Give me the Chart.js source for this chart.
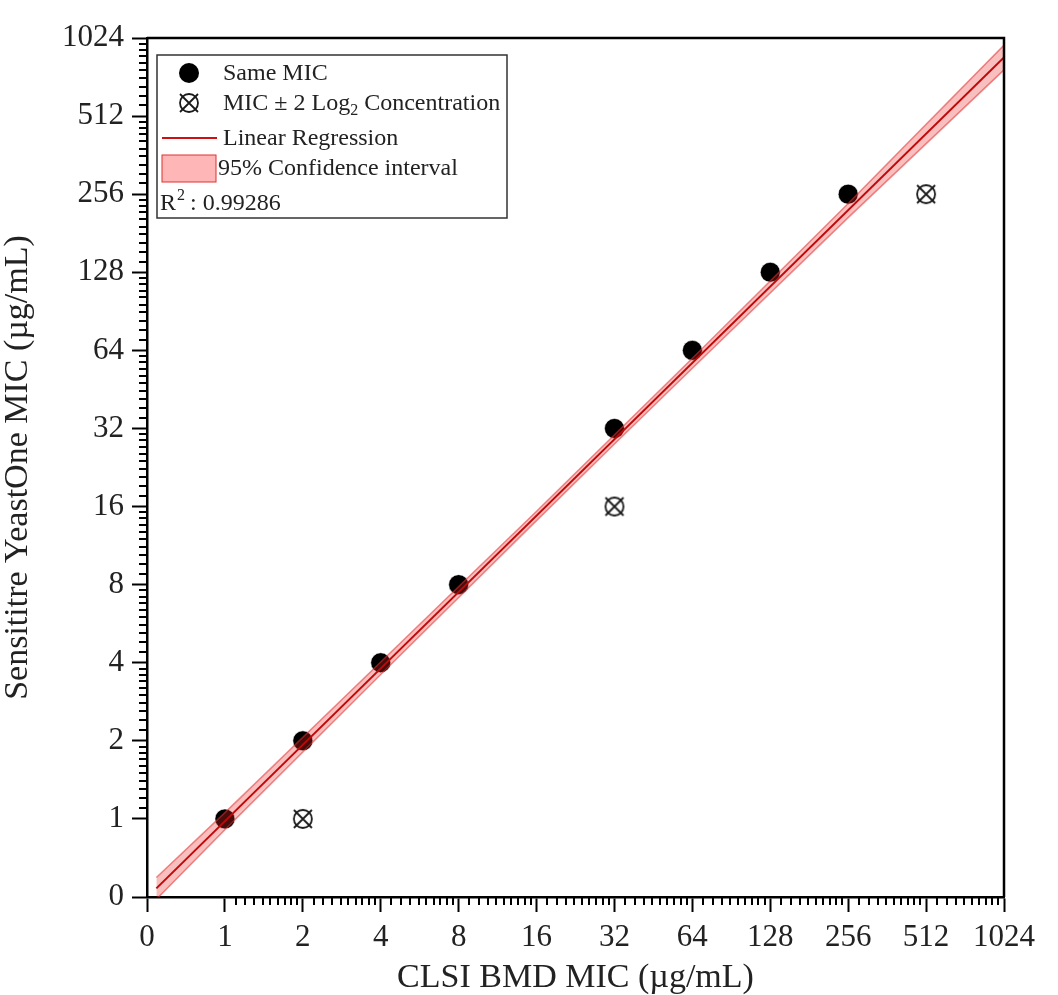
<!DOCTYPE html>
<html>
<head>
<meta charset="utf-8">
<script src="https://cdn.jsdelivr.net/npm/chart.js@4.4.1/dist/chart.umd.min.js"></script>
<style>html, body { margin: 0; padding: 0; background: #fff; }</style>
</head>
<body>
<canvas id="myChart" width="1058" height="995"></canvas>
<script>
// MIC values (ug/mL)
var sameMicX = [1, 2, 4, 8, 32, 64, 128, 256];
var sameMicY = [1, 2, 4, 8, 32, 64, 128, 256];
var offMicX = [2, 32, 512];
var offMicY = [1, 16, 256];

// regression line and 95% band in log2 units
var fitX = [-0.88, 10.03];
var fitY = [-0.89, 9.78];
var bandX = [-0.88, 0, 2, 4, 5, 6, 8, 10.03];
var bandUpper = [-0.75, 0.08, 2.01, 3.94, 4.92, 5.90, 7.88, 9.94];
var bandLower = [-1.03, -0.14, 1.85, 3.82, 4.80, 5.77, 7.70, 9.62];

// tick labels for log2 positions -1 .. 10
var tickLabels = ['0', '1', '2', '4', '8', '16', '32', '64', '128', '256', '512', '1024'];
var r2Text = '0.99286';

var serif = 'Liberation Serif';
Chart.defaults.font.family = serif;
Chart.defaults.color = '#222';

function pts(xs, ys, log) {
    return xs.map(function (x, i) {
        return log ? { x: Math.log2(x), y: Math.log2(ys[i]) } : { x: x, y: ys[i] };
    });
}

// circle with a cross marker
function circleX(size) {
    var c = document.createElement('canvas');
    c.width = size; c.height = size;
    var g = c.getContext('2d');
    var m = size / 2;
    g.strokeStyle = '#1a1a1a';
    g.lineWidth = 1.8;
    g.beginPath(); g.arc(m, m, m - 3, 0, Math.PI * 2); g.stroke();
    g.beginPath();
    g.moveTo(3, 3); g.lineTo(size - 3, size - 3);
    g.moveTo(size - 3, 3); g.lineTo(3, size - 3);
    g.stroke();
    return c;
}
var marker = circleX(24);

var minorTicks = {
    id: 'minorTicks',
    afterDraw: function (chart) {
        var g = chart.ctx, xs = chart.scales.x, ys = chart.scales.y, a = chart.chartArea;
        g.save();
        g.strokeStyle = '#000';
        g.lineWidth = 2;
        for (var n = 0; n < 10; n++) {
            for (var k = 1; k < 10; k++) {
                var v = n + Math.log2(1 + k / 10);
                var px = Math.round(xs.getPixelForValue(v));
                g.beginPath(); g.moveTo(px, a.bottom); g.lineTo(px, a.bottom + 8); g.stroke();
                var py = Math.round(ys.getPixelForValue(v));
                g.beginPath(); g.moveTo(a.left, py); g.lineTo(a.left - 8, py); g.stroke();
            }
        }
        // top and right frame
        g.lineWidth = 2.5;
        g.beginPath();
        g.moveTo(a.left, a.top); g.lineTo(a.right, a.top); g.lineTo(a.right, a.bottom);
        g.stroke();
        g.restore();
    }
};

var legendBox = {
    id: 'legendBox',
    afterDraw: function (chart) {
        var g = chart.ctx;
        g.save();
        g.fillStyle = '#fff';
        g.fillRect(157, 55, 350, 163);
        g.strokeStyle = '#333';
        g.lineWidth = 1.5;
        g.strokeRect(157, 55, 350, 163);

        g.fillStyle = '#000';
        g.beginPath(); g.arc(189, 73, 10, 0, Math.PI * 2); g.fill();
        g.drawImage(marker, 177, 91);

        g.strokeStyle = '#d01010';
        g.lineWidth = 2;
        g.beginPath(); g.moveTo(162, 138); g.lineTo(217, 138); g.stroke();

        g.fillStyle = 'rgb(255,182,182)';
        g.fillRect(162, 155, 54, 27);
        g.strokeStyle = '#e03030';
        g.lineWidth = 1;
        g.strokeRect(162, 155, 54, 27);

        g.fillStyle = '#222';
        g.textBaseline = 'middle';
        g.font = '24px "' + serif + '"';
        g.fillText('Same MIC', 223, 74);
        var t = 'MIC \u00b1 2 Log';
        g.fillText(t, 223, 104);
        var w = g.measureText(t).width;
        g.font = '16px "' + serif + '"';
        g.fillText('2', 223 + w, 111);
        var w2 = g.measureText('2').width;
        g.font = '24px "' + serif + '"';
        g.fillText(' Concentration', 223 + w + w2, 104);
        g.fillText('Linear Regression', 223, 139);
        g.fillText('95% Confidence interval', 218, 169);
        g.fillText('R', 160, 204);
        var wr = g.measureText('R').width;
        g.font = '16px "' + serif + '"';
        g.fillText('2', 160 + wr + 1, 196);
        g.font = '24px "' + serif + '"';
        g.fillText(' : ' + r2Text, 160 + wr + 8, 204);
        g.restore();
    }
};

var ctx = document.getElementById('myChart').getContext('2d');
var myChart = new Chart(ctx, {
    type: 'scatter',
    data: {
        datasets: [
            {
                label: 'Linear Regression',
                data: pts(fitX, fitY, false),
                showLine: true,
                borderColor: '#c00808',
                borderWidth: 2,
                pointRadius: 0,
                order: 0
            },
            {
                label: '95% upper',
                data: pts(bandX, bandUpper, false),
                showLine: true,
                borderColor: 'rgba(225,50,50,0.55)',
                borderWidth: 1.5,
                backgroundColor: 'rgba(235,40,40,0.3)',
                fill: '+1',
                pointRadius: 0,
                order: 1
            },
            {
                label: '95% lower',
                data: pts(bandX, bandLower, false),
                showLine: true,
                borderColor: 'rgba(225,50,50,0.55)',
                borderWidth: 1.5,
                pointRadius: 0,
                order: 1
            },
            {
                label: 'Same MIC',
                data: pts(sameMicX, sameMicY, true),
                pointRadius: 10,
                backgroundColor: '#000',
                borderColor: 'rgba(255,255,255,0.6)',
                borderWidth: 1,
                order: 2
            },
            {
                label: 'MIC \u00b1 2 Log2 Concentration',
                data: pts(offMicX, offMicY, true),
                pointStyle: marker,
                pointRadius: 12,
                order: 2
            }
        ]
    },
    options: {
        responsive: false,
        maintainAspectRatio: false,
        animation: false,
        events: [],
        layout: { padding: { top: 38, right: 54, left: 0, bottom: 0 } },
        plugins: { legend: { display: false }, tooltip: { enabled: false } },
        scales: {
            x: {
                type: 'linear',
                min: -1,
                max: 10,
                afterFit: function (s) { s.height = 98; },
                ticks: {
                    stepSize: 1,
                    autoSkip: false,
                    maxRotation: 0,
                    padding: 7,
                    font: { size: 31 },
                    color: '#222',
                    callback: function (v) { return tickLabels[v + 1]; }
                },
                grid: { drawOnChartArea: false, tickLength: 15, tickWidth: 2, tickColor: '#000' },
                border: { display: true, color: '#000', width: 2.5 },
                title: {
                    display: true,
                    text: 'CLSI BMD MIC (\u00b5g/mL)',
                    font: { size: 34, lineHeight: 1 },
                    color: '#222',
                    padding: { top: 0, bottom: 0 }
                }
            },
            y: {
                type: 'linear',
                min: -1,
                max: 10,
                afterFit: function (s) { s.width = 147; },
                ticks: {
                    stepSize: 1,
                    autoSkip: false,
                    padding: 8,
                    font: { size: 31 },
                    color: '#222',
                    callback: function (v) { return tickLabels[v + 1]; }
                },
                grid: { drawOnChartArea: false, tickLength: 15, tickWidth: 2, tickColor: '#000' },
                border: { display: true, color: '#000', width: 2.5 },
                title: {
                    display: true,
                    text: 'Sensititre YeastOne MIC (\u00b5g/mL)',
                    font: { size: 34, lineHeight: 1 },
                    color: '#222',
                    padding: { top: 1, bottom: 0 }
                }
            }
        }
    },
    plugins: [minorTicks, legendBox]
});
</script>
</body>
</html>
